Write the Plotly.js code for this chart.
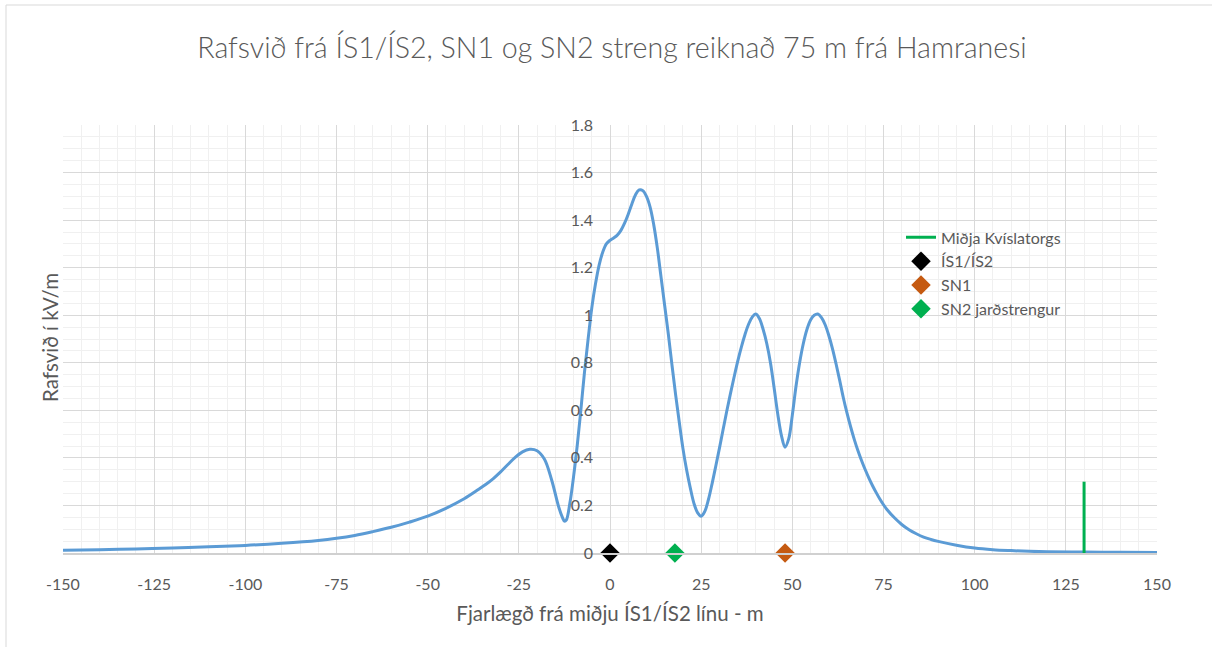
<!DOCTYPE html>
<html>
<head>
<meta charset="utf-8">
<script src="https://cdn.plot.ly/plotly-3.0.1.min.js"></script>
<style>
html,body{margin:0;padding:0;background:#fff;}
#chart{width:1212px;height:647px;}
</style>
</head>
<body>
<div id="chart"></div>
<script>
// Distance from centre of ÍS1/ÍS2 line (m)
const distance = [-150,-140,-130,-120,-110,-100,-90,-80,-75,-70,-65,-60,-55,-50,-45,-40,-36,-34,-32,-30,-28,-26,-24,-22,-20,-18,-16,-14,-13,-12.5,-12,-11,-10,-9,-8,-7,-6,-5,-4,-3,-2,-1,0,1,2,3,4,5,6,7,8,9,10,11,12,13,14,15,16,17,18,19,20,21,22,23,24,25,26,27,28,29,30,31,32,33,34,35,36,37,38,39,40,41,42,43,44,45,46,47,48,49,50,51,52,53,54,55,56,57,58,59,60,61,62,63,64,65,66,67,68,69,70,71,72,73,74,75,76,78,80,82,84,86,88,90,95,100,105,110,115,120,130,140,150];
// Electric field (kV/m)
const field = [0.012,0.014,0.017,0.021,0.026,0.032,0.041,0.053,0.062,0.074,0.09,0.108,0.13,0.155,0.188,0.228,0.268,0.289,0.313,0.341,0.372,0.402,0.425,0.436,0.43,0.395,0.307,0.19,0.148,0.134,0.138,0.21,0.32,0.45,0.6,0.76,0.9,1.03,1.13,1.21,1.265,1.3,1.315,1.325,1.337,1.357,1.387,1.425,1.468,1.507,1.527,1.524,1.5,1.455,1.38,1.28,1.16,1.04,0.92,0.79,0.665,0.55,0.44,0.35,0.275,0.21,0.17,0.155,0.175,0.225,0.292,0.365,0.44,0.518,0.595,0.668,0.738,0.805,0.865,0.918,0.962,0.992,1.005,0.985,0.94,0.88,0.8,0.695,0.585,0.495,0.445,0.48,0.58,0.7,0.8,0.88,0.94,0.98,1.0,1.005,0.99,0.96,0.915,0.86,0.795,0.725,0.652,0.588,0.53,0.477,0.43,0.388,0.35,0.315,0.283,0.254,0.227,0.203,0.182,0.148,0.12,0.098,0.081,0.067,0.057,0.049,0.033,0.021,0.014,0.01,0.007,0.005,0.004,0.003,0.002];

// Centre of Kvíslatorg marker line
const torgX = [130, 130];
const torgY = [0, 0.3];

// Line positions
const lineNames = ["ÍS1/ÍS2", "SN1", "SN2 jarðstrengur"];
const lineX = [0, 48, 17.8];
const lineY = [0, 0, 0];
const lineColors = ["#000000", "#c55a11", "#00b050"];

// Axis ticks
const xTickVals = [-150,-125,-100,-75,-50,-25,0,25,50,75,100,125,150];
const xTickText = ["-150","-125","-100","-75","-50","-25","0","25","50","75","100","125","150"];
const yTickVals = [0,0.2,0.4,0.6,0.8,1,1.2,1.4,1.6,1.8];
const yTickText = ["0","0.2","0.4","0.6","0.8","1","1.2","1.4","1.6","1.8"];

const textColor = "#595959";
const fontFam = "Lato, 'Open Sans', sans-serif";

const traces = [
  {
    x: distance, y: field, type: "scatter", mode: "lines",
    line: {color: "#5b9bd5", width: 3, shape: "spline", smoothing: 1},
    showlegend: false, hoverinfo: "x+y"
  },
  {
    x: torgX, y: torgY, type: "scatter", mode: "lines",
    name: "Miðja Kvíslatorgs",
    line: {color: "#00b050", width: 3}
  }
];
lineNames.forEach((n, i) => {
  traces.push({
    x: [lineX[i]], y: [lineY[i]], type: "scatter", mode: "markers",
    name: n, cliponaxis: false,
    marker: {symbol: "diamond", size: 15, color: lineColors[i]}
  });
});

const layout = {
  width: 1212, height: 647,
  margin: {l: 63, r: 55, t: 125, b: 94},
  paper_bgcolor: "#ffffff", plot_bgcolor: "#ffffff",
  font: {family: fontFam, color: textColor, size: 16},
  title: {
    text: "Rafsvið frá ÍS1/ÍS2, SN1 og SN2 streng reiknað 75 m frá Hamranesi",
    font: {family: fontFam, size: 28.6, color: textColor, weight: 300},
    x: 612 / 1212, xanchor: "center", y: 1 - 48/647, yanchor: "middle"
  },
  xaxis: {
    range: [-150, 150], tickmode: "array", tickvals: xTickVals, ticktext: xTickText,
    showgrid: true, gridcolor: "#d9d9d9", gridwidth: 1,
    minor: {dtick: 5, tick0: 0, showgrid: true, gridcolor: "#f0f0f0", gridwidth: 1},
    zeroline: false, showline: true, linecolor: "#d0d0d0", linewidth: 2,
    ticks: "", ticklabelstandoff: 16,
    tickfont: {size: 16, color: textColor},
    title: {text: "Fjarlægð frá miðju ÍS1/ÍS2 línu - m", font: {size: 20.5, color: textColor}, standoff: 14},
    fixedrange: true
  },
  yaxis: {
    range: [0, 1.8], tickmode: "array", tickvals: yTickVals, ticktext: yTickText,
    anchor: "free", position: 0.5,
    showgrid: true, gridcolor: "#d9d9d9", gridwidth: 1,
    minor: {dtick: 0.05, tick0: 0, showgrid: true, gridcolor: "#f0f0f0", gridwidth: 1},
    zeroline: false, showline: false,
    ticks: "", ticklabelstandoff: 17,
    tickfont: {size: 16, color: textColor},
    fixedrange: true
  },
  legend: {
    x: 0.766, y: 0.777, xanchor: "left", yanchor: "top",
    bgcolor: "rgba(0,0,0,0)", font: {size: 16, color: textColor},
    itemwidth: 30
  },
  annotations: [{
    text: "Rafsvið í kV/m", xref: "paper", yref: "paper",
    x: (50 - 63) / 1094, y: (553 - 338) / 428, xanchor: "center", yanchor: "middle",
    textangle: -90, showarrow: false, font: {size: 20.5, color: textColor}
  }],
  shapes: [{
    type: "rect", xref: "paper", yref: "paper", layer: "below",
    x0: (6 - 63) / 1094, x1: (1230 - 63) / 1094,
    y0: -(660 - 553) / 428, y1: (553 - 5) / 428,
    line: {color: "#d9d9d9", width: 1}, fillcolor: "rgba(0,0,0,0)"
  }]
};

Plotly.newPlot("chart", traces, layout, {displayModeBar: false, staticPlot: true});
</script>
</body>
</html>
